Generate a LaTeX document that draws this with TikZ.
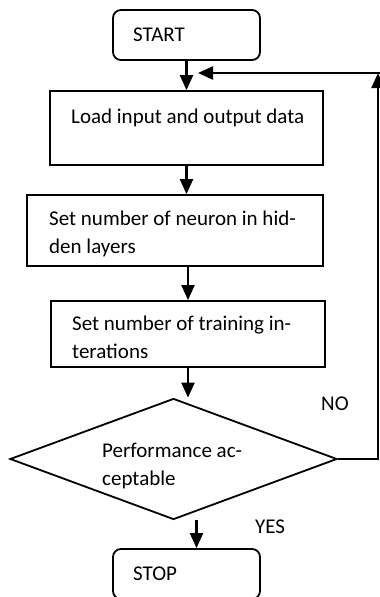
\documentclass[tikz,border=0pt]{standalone}
\usepackage{fontspec}
\setmainfont{Carlito}
\usetikzlibrary{arrows.meta,shapes.geometric}
\tikzset{every node/.style={font=\fontsize{21}{28}\selectfont},
 flow/.style={-{Triangle[length=15pt,width=13pt]},line width=2.2pt},
 stepbox/.style={draw,line width=1.8pt,inner sep=0pt},
 termbox/.style={stepbox,rounded corners=8pt,minimum width=147pt,minimum height=50pt},
 decision/.style={draw,line width=1.8pt,diamond,inner sep=0pt,
  minimum width=327pt,minimum height=121pt,aspect=2.7},
 txt/.style={anchor=base west,inner sep=0pt,align=left}}

\begin{document}
\begin{tikzpicture}[x=1pt,y=-1pt]
\useasboundingbox (0,0) rectangle (380,597);
% boxes
\node[termbox] (start) at (186.5,35) {};
\node[stepbox,minimum width=273pt,minimum height=74pt] (load) at (186.5,128) {};
\node[stepbox,minimum width=296pt,minimum height=71pt] (neuron) at (175,230.5) {};
\node[stepbox,minimum width=274pt,minimum height=66pt] (train) at (188,334) {};
\node[decision] (perf) at (173.5,459) {};
\node[termbox] (stop) at (186.5,574) {};
% texts (two-line texts sit on their last baseline)
\node[txt] (starttxt) at (133,41) {START};
\node[txt] (loadtxt) at (71,123) {Load input and output data};
\node[txt] (neurontxt) at (49,253) {Set number of neuron in hid-\\den layers};
\node[txt] (traintxt) at (72,358) {Set number of training in-\\terations};
\node[txt] (perftxt) at (102,485) {Performance ac-\\ceptable};
\node[txt] (stoptxt) at (133,580) {STOP};
\node[txt] (no) at (321,410) {NO};
\node[txt] (yes) at (255,533) {YES};
% connectors
\coordinate (loop) at (378,73);
\coordinate (edge) at (381,73);
\draw[flow] (start) -- (load);
\draw[flow] (load.south) -- (load.south |- neuron.north);
\draw[flow] (train.north |- neuron.south) -- (train.north);
\draw[flow] (train.south) -- (train.south |- perf.north);
\draw[flow] ([xshift=10pt]stop.north |- perf.south) -- ([xshift=10pt]stop.north);
\draw[flow] (perf.east) -| (loop);
\draw[flow] (edge) -- ([xshift=11.5pt]load.north |- edge);
\end{tikzpicture}
\end{document}
